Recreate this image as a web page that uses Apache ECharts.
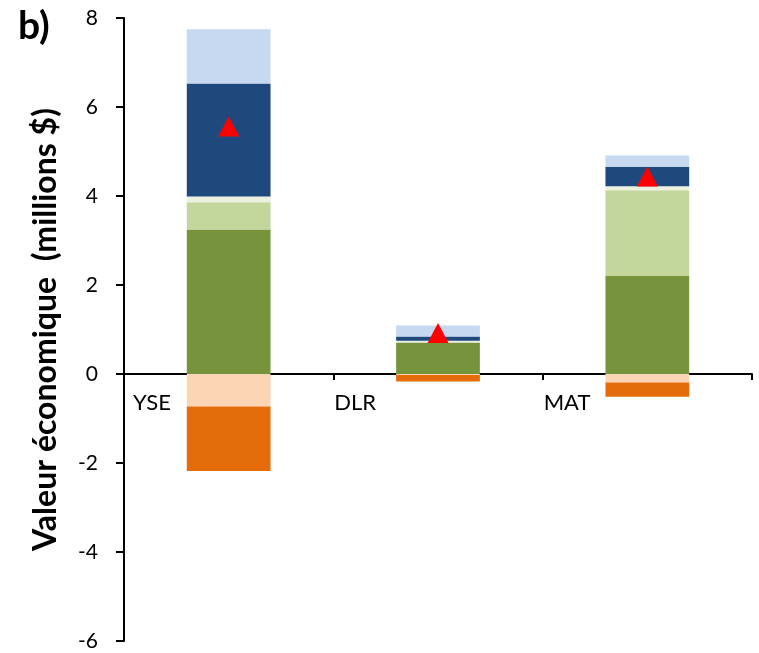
<!DOCTYPE html>
<html><head><meta charset="utf-8">
<script src="https://cdn.jsdelivr.net/npm/echarts@6/dist/echarts.min.js"></script>
<style>html,body{margin:0;padding:0;background:#fff}#c{width:759px;height:653px}</style>
</head><body><div id="c"></div>
<script>
var categories = ['YSE', 'DLR', 'MAT'];
var darkGreen  = [3.25, 0.71, 2.20];
var lightGreen = [0.61, 0.00, 1.93];
var cream      = [0.13, 0.04, 0.09];
var darkBlue   = [2.54, 0.09, 0.44];
var lightBlue  = [1.22, 0.25, 0.25];
var peach      = [-0.73, -0.02, -0.19];
var orange     = [-1.45, -0.15, -0.32];
var netValue   = [5.56, 0.92, 4.44];
var yTicks = {min: -6, max: 8, interval: 2};
var axisLabels = ['YSE', 'DLR', 'MAT', ''];

var font = 'Lato';
var chartH = 653, gridTop = 18, gridBottom = 12;
var zeroPx = gridTop + (chartH - gridTop - gridBottom) * (yTicks.max - 0) / (yTicks.max - yTicks.min);
function bar(name, data, color) {
  return {name: name, type: 'bar', stack: 'a', data: data, barWidth: '40%',
    itemStyle: {color: color}, emphasis: {disabled: true}};
}
var chart = echarts.init(document.getElementById('c'));
chart.setOption({
  animation: false,
  grid: [
    {left: 124, right: 7, top: gridTop, bottom: gridBottom, containLabel: false, outerBoundsMode: 'none'},
    {left: 124, right: 7, top: gridTop, bottom: chartH - zeroPx, containLabel: false, outerBoundsMode: 'none'}
  ],
  graphic: [{type: 'text', left: 18, top: 7, style: {text: 'b)', font: 'bold 39px Lato', fill: '#000'}}],
  xAxis: [
    {type: 'category', gridIndex: 0, data: categories, show: false},
    {type: 'category', gridIndex: 1, data: axisLabels, boundaryGap: false, position: 'bottom',
      axisLine: {onZero: false, lineStyle: {color: '#000', width: 2}},
      axisTick: {show: true, length: 6, interval: 0, lineStyle: {color: '#000', width: 2}},
      axisLabel: {show: true, interval: 0, align: 'left', margin: 18,
        formatter: function (v, i) { return (i === 0 ? '{f|' : '{o|') + v + '}'; },
        rich: {
          f: {padding: [0, 0, 0, 9], color: '#000', fontFamily: font, fontSize: 22},
          o: {padding: [0, 0, 0, 1], color: '#000', fontFamily: font, fontSize: 22}
        },
        color: '#000', fontFamily: font, fontSize: 22}}
  ],
  yAxis: [
    {type: 'value', gridIndex: 0, min: yTicks.min, max: yTicks.max, interval: yTicks.interval,
      name: 'Valeur économique  (millions $)', nameLocation: 'middle', nameRotate: 90, nameGap: 62,
      nameTextStyle: {fontFamily: font, fontWeight: 'bold', fontSize: 32, color: '#000'},
      axisLine: {show: true, lineStyle: {color: '#000', width: 2}},
      axisTick: {show: true, length: 8, lineStyle: {color: '#000', width: 2}},
      axisLabel: {color: '#000', fontFamily: font, fontSize: 21, margin: 26},
      splitLine: {show: false}},
    {type: 'value', gridIndex: 1, show: false}
  ],
  series: [
    bar('dg', darkGreen, '#77933C'),
    bar('lg', lightGreen, '#C3D69B'),
    bar('cr', cream, '#EBF1DE'),
    bar('db', darkBlue, '#1F497D'),
    bar('lb', lightBlue, '#C6D9F1'),
    bar('pe', peach, '#FCD5B5'),
    bar('or', orange, '#E46C0A'),
    {type: 'scatter', data: netValue, symbol: 'triangle', symbolSize: [21, 20],
      itemStyle: {color: '#FF0000', opacity: 1}, z: 10}
  ]
});
</script></body></html>
